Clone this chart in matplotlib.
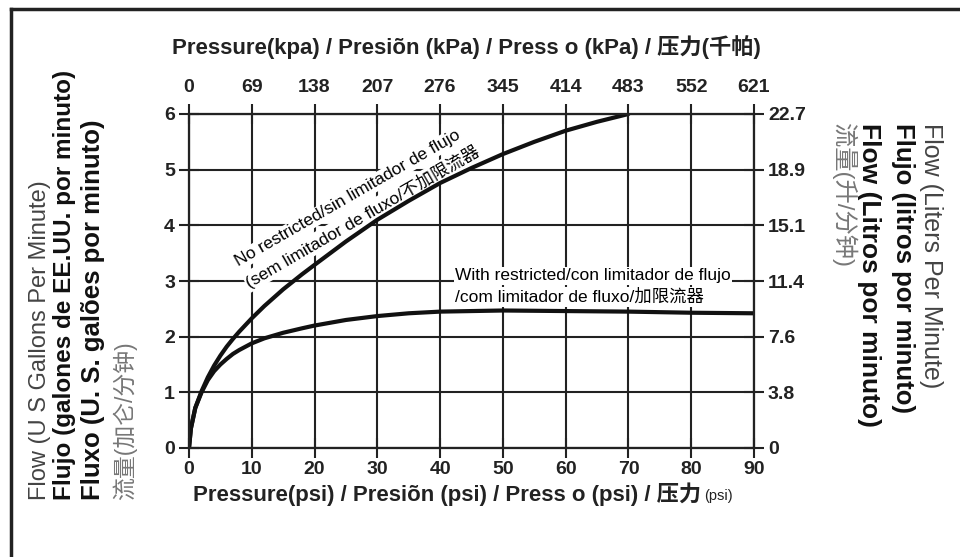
import matplotlib
matplotlib.use('Agg')
import matplotlib.pyplot as plt
from matplotlib.lines import Line2D

plt.rcParams['font.family'] = ['Liberation Sans', 'Noto Sans CJK SC', 'DejaVu Sans']

# axis values
psi_ticks = [0, 10, 20, 30, 40, 50, 60, 70, 80, 90]
kpa_labels = ['0', '69', '138', '207', '276', '345', '414', '483', '552', '621']
gpm_ticks = [0, 1, 2, 3, 4, 5, 6]
lpm_labels = ['0', '3.8', '7.6', '11.4', '15.1', '18.9', '22.7']

# no restrictor curve
psi_free = [0, 0.3, 1, 2, 3, 4, 5, 6, 7, 8, 10, 12, 15, 18, 20, 25, 30, 35, 40, 45, 50, 55, 60, 65, 70]
gpm_free = [0, 0.35, 0.72, 1.02, 1.27, 1.48, 1.66, 1.82, 1.96, 2.09, 2.33, 2.55, 2.85, 3.12, 3.29,
            3.71, 4.1, 4.44, 4.76, 5.03, 5.28, 5.5, 5.7, 5.86, 6.0]
# with restrictor curve
psi_lim = [0, 0.3, 1, 2, 3, 4, 5, 6, 7, 8, 10, 12, 15, 18, 20, 25, 30, 35, 40, 50, 60, 70, 80, 90]
gpm_lim = [0, 0.35, 0.72, 1.0, 1.22, 1.38, 1.5, 1.6, 1.69, 1.76, 1.88, 1.97, 2.07, 2.15, 2.2,
           2.3, 2.37, 2.42, 2.45, 2.47, 2.46, 2.45, 2.43, 2.42]

W, H = 960, 557
def fx(p):
    return p / W
def fy(p):
    return 1 - p / H

fig = plt.figure(figsize=(W / 100, H / 100), dpi=100)
ax = fig.add_axes([fx(189), fy(448), (754 - 189) / W, (448 - 114) / H])

LC = '#222222'
ax.set_xlim(0, 90)
ax.set_ylim(0, 6)
ax.set_xticks(psi_ticks)
ax.set_yticks(gpm_ticks)
ax.grid(True, color=LC, lw=1.5)
ax.tick_params(direction='inout', length=14, width=1.5, color=LC, labelsize=14)
ax.tick_params(axis='x', pad=2)
ax.tick_params(axis='y', pad=3)
for lab in ax.get_xticklabels() + ax.get_yticklabels():
    lab.set_fontweight('bold')
    lab.set_color('#222')

axt = ax.twiny()
axt.set_xlim(0, 90)
axt.set_xticks(psi_ticks)
axt.set_xticklabels(kpa_labels, fontweight='bold', fontsize=14, color='#222')
axt.tick_params(direction='inout', length=14, width=1.5, color=LC, pad=6)

axr = ax.twinx()
axr.set_ylim(0, 6)
axr.set_yticks(gpm_ticks)
axr.set_yticklabels(lpm_labels, fontweight='bold', fontsize=14, color='#222')
axr.tick_params(direction='inout', length=14, width=1.5, color=LC, pad=3)

for a in (ax, axt, axr):
    for s in a.spines.values():
        s.set_linewidth(1.5)
        s.set_color(LC)

ax.plot(psi_free, gpm_free, color='#111', lw=3, zorder=4, solid_capstyle='round', solid_joinstyle='round')
ax.plot(psi_lim, gpm_lim, color='#111', lw=3, zorder=4, solid_capstyle='round', solid_joinstyle='round')

box = dict(facecolor='white', edgecolor='none', pad=1)
tf = fig.transFigure
ax.text(fx(236), fy(263), 'No restricted/sin limitador de flujo', transform=tf, rotation=30,
        rotation_mode='anchor', ha='left', va='center', fontsize=12.5, bbox=box, zorder=3)
ax.text(fx(247), fy(283), '(sem limitador de fluxo/不加限流器', transform=tf, rotation=30,
        rotation_mode='anchor', ha='left', va='center', fontsize=12.5, bbox=box, zorder=3)
ax.text(fx(455), fy(276), 'With restricted/con limitador de flujo', transform=tf,
        ha='left', va='center', fontsize=12.5, bbox=box, zorder=3)
ax.text(fx(455), fy(297), '/com limitador de fluxo/加限流器', transform=tf,
        ha='left', va='center', fontsize=12.5, bbox=box, zorder=3)

# axis titles
fig.text(fx(172), fy(47), 'Pressure(kpa) / Presiõn (kPa) / Press o (kPa) / 压力(千帕)',
         ha='left', va='center', fontsize=16, fontweight='bold', color='#222')
bt = fig.text(fx(193), fy(494), 'Pressure(psi) / Presiõn (psi) / Press o (psi) / 压力',
              ha='left', va='center', fontsize=16, fontweight='bold', color='#222')
fig.canvas.draw()
ext = bt.get_window_extent()
fig.text(ext.x1 / W + 0.003, fy(496), '(psi)', ha='left', va='center', fontsize=10.5, color='#222')

left_labels = [
    (40, 'Flow (U S Gallons Per Minute)', 'normal', 17, '#444'),
    (64, 'Flujo (galones de EE.UU. por minuto)', 'bold', 17.5, '#111'),
    (93, 'Fluxo (U. S. galões por minuto)', 'bold', 18.5, '#111'),
    (125, '流量(加仑/分钟)', 'normal', 16.5, '#777'),
]
for x, s, w, fs, c in left_labels:
    fig.text(fx(x), fy(500), s, rotation=90, rotation_mode='anchor', ha='left', va='center',
             fontsize=fs, fontweight=w, color=c)

right_labels = [
    (931, 'Flow (Liters Per Minute)', 'normal', 18, '#444'),
    (903, 'Flujo (litros por minuto)', 'bold', 18.5, '#111'),
    (869, 'Flow (Litros por minuto)', 'bold', 19, '#111'),
    (844, '流量(升/分钟)', 'normal', 17.5, '#777'),
]
for x, s, w, fs, c in right_labels:
    fig.text(fx(x), fy(123), s, rotation=-90, rotation_mode='anchor', ha='left', va='center',
             fontsize=fs, fontweight=w, color=c)

# outer frame (top and left edges)
fig.add_artist(Line2D([fx(11), 1.0], [fy(9), fy(9)], transform=tf, color='#222', lw=2.5))
fig.add_artist(Line2D([fx(11), fx(11)], [fy(9), 0.0], transform=tf, color='#222', lw=2.5))

fig.savefig('out.png', dpi=100)
